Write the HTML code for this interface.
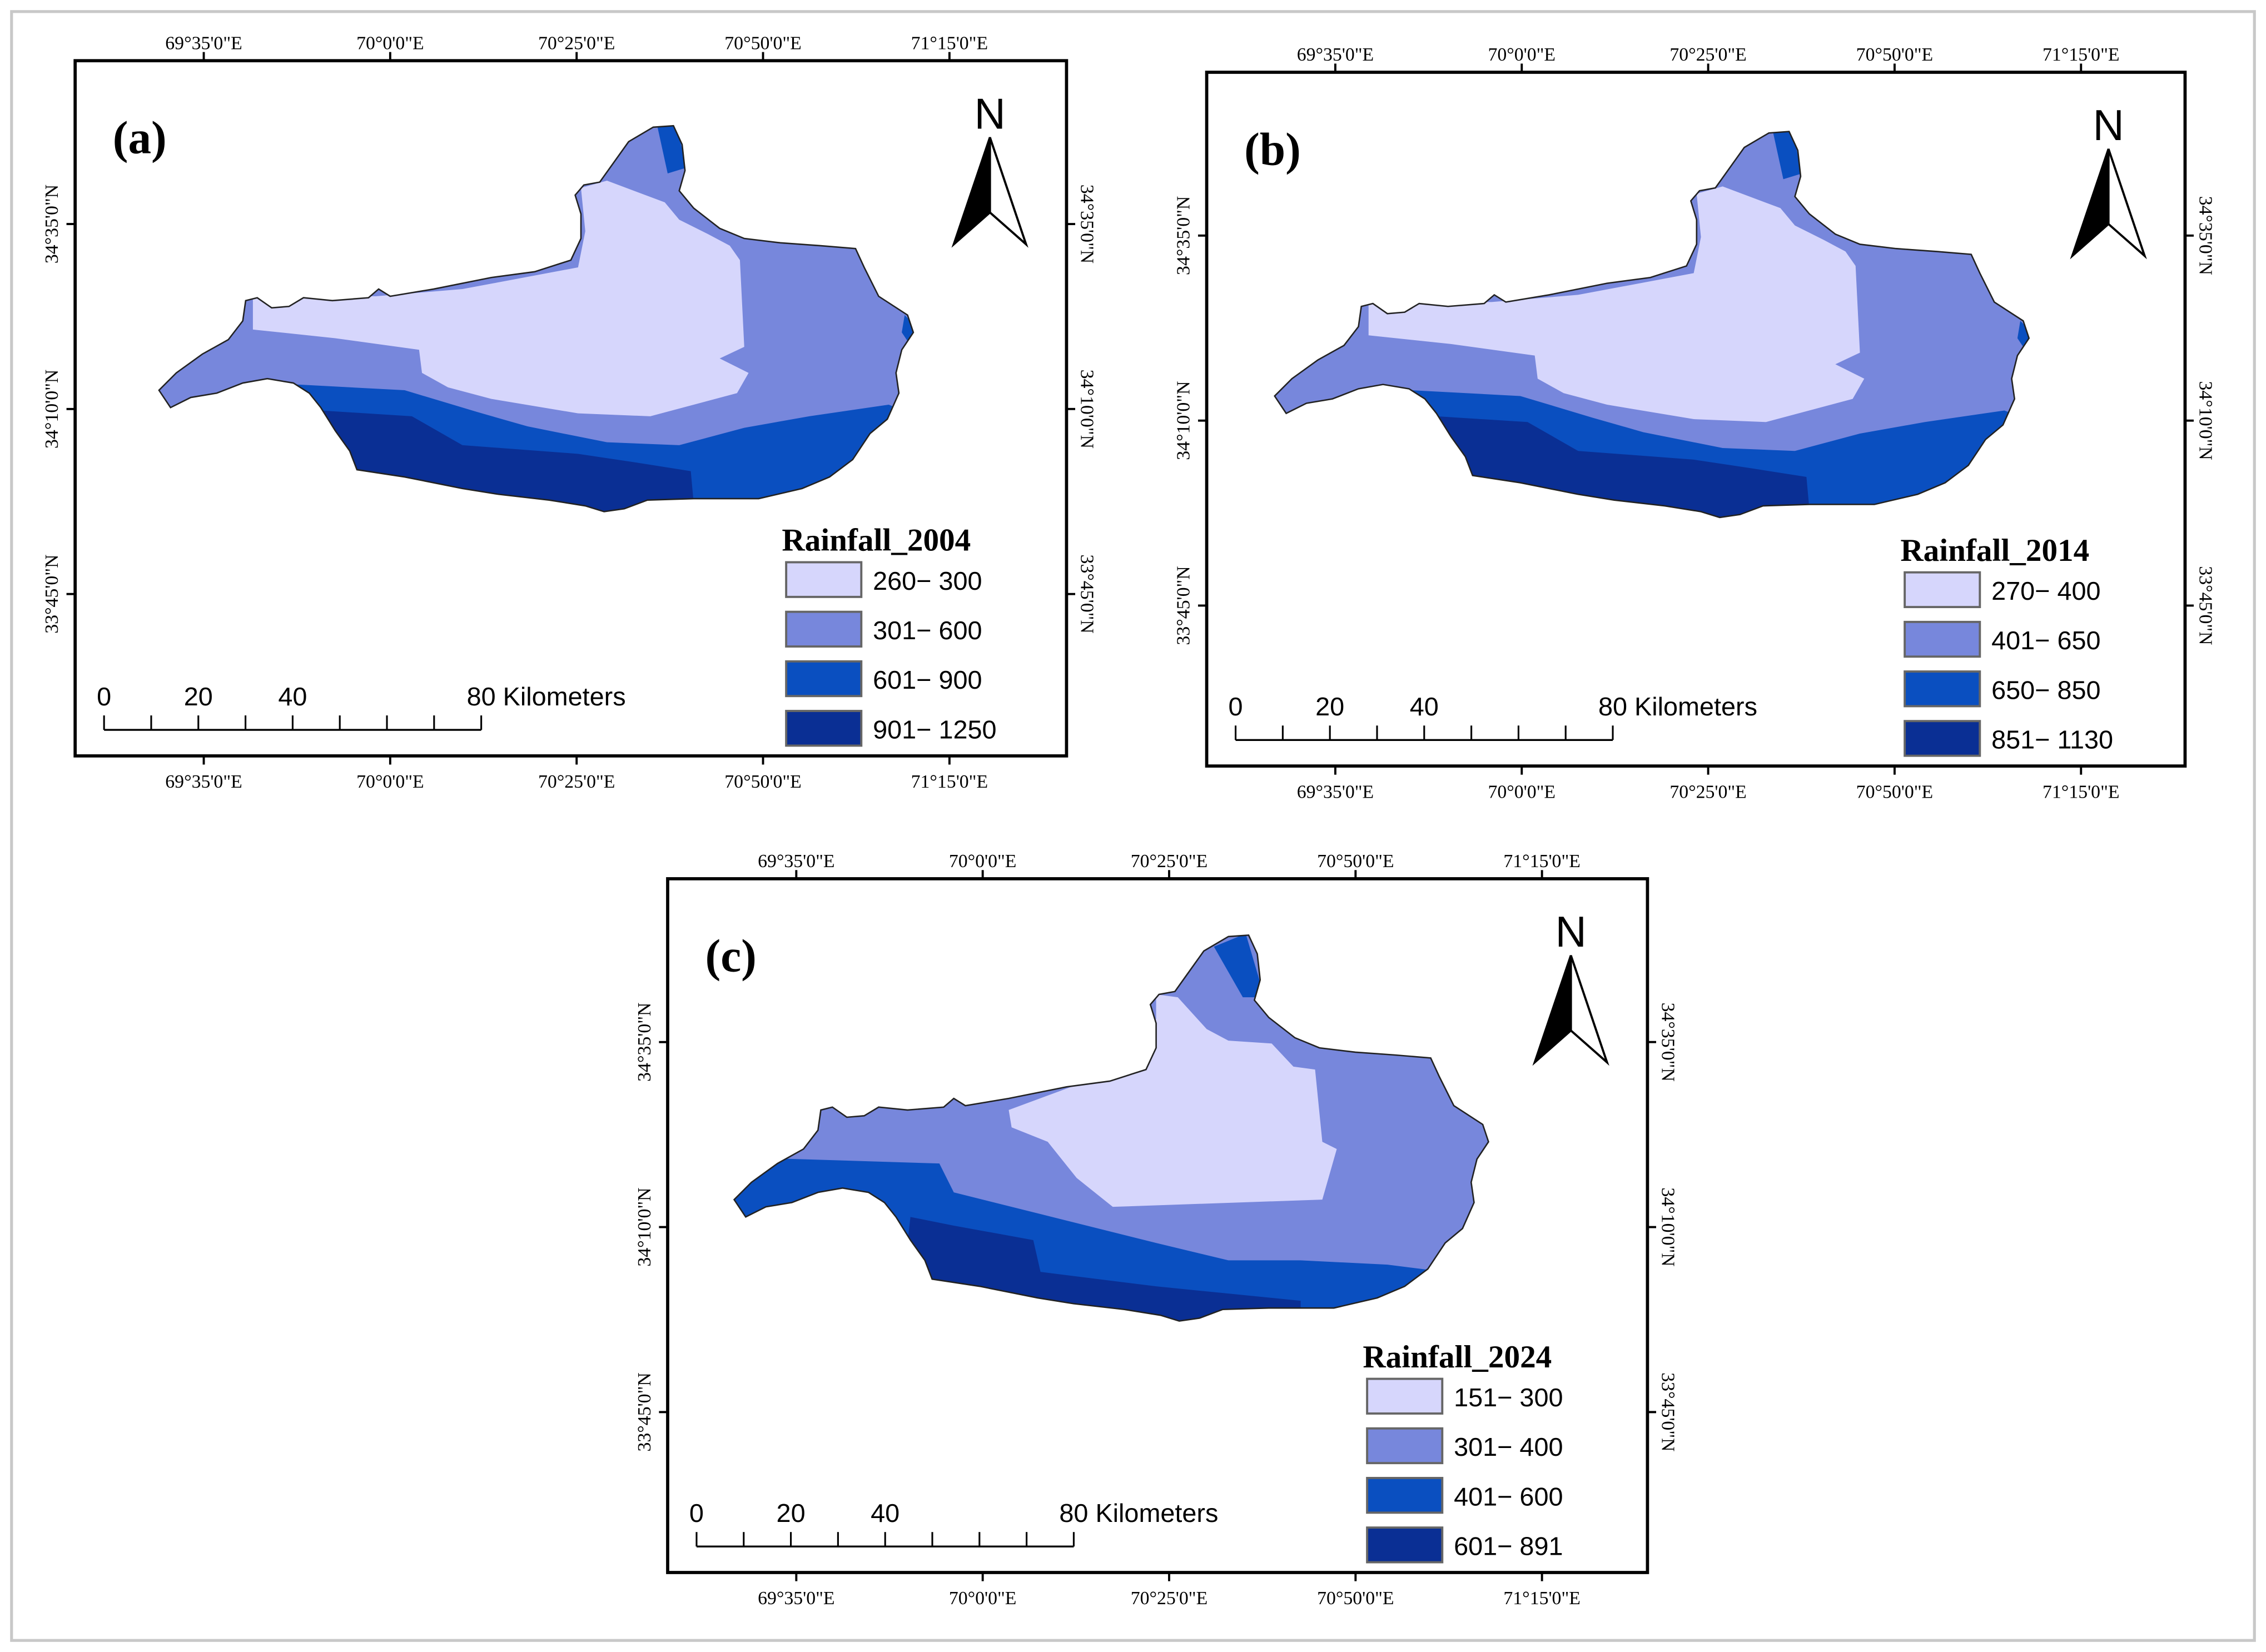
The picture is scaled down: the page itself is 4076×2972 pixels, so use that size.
<!DOCTYPE html>
<html><head><meta charset="utf-8"><title>Rainfall maps</title>
<style>html,body{margin:0;padding:0;background:#fff;}svg{display:block;}</style></head>
<body>
<svg id="fig" width="4076" height="2972" viewBox="0 0 1568 1143" preserveAspectRatio="none" xmlns="http://www.w3.org/2000/svg">
<rect x="8" y="8" width="1552" height="1127" fill="#fff" stroke="#c8c8c8" stroke-width="2"/>
<g id="root"></g>
</svg>
<script>
const lonLabels = ["69°35'0\"E","70°0'0\"E","70°25'0\"E","70°50'0\"E","71°15'0\"E"];
const latLabels = ["34°35'0\"N","34°10'0\"N","33°45'0\"N"];
const panelLetters = ["(a)","(b)","(c)"];
const legendTitles = ["Rainfall_2004","Rainfall_2014","Rainfall_2024"];
const legendA = ["260\u2212 300","301\u2212 600","601\u2212 900","901\u2212 1250"];
const legendB = ["270\u2212 400","401\u2212 650","650\u2212 850","851\u2212 1130"];
const legendC = ["151\u2212 300","301\u2212 400","401\u2212 600","601\u2212 891"];
const scaleLabels = ["0","20","40","80 Kilometers"];
const scaleValues = [0,20,40,80];
const colors = ["#d6d6fc","#7787dc","#0a4fc0","#0a2f94"];

const NS="http://www.w3.org/2000/svg";
const root=document.getElementById('root');
function mk(tag,attrs,parent,text){const e=document.createElementNS(NS,tag);for(const k in attrs)e.setAttribute(k,attrs[k]);if(text!==undefined)e.textContent=text;(parent||root).appendChild(e);return e;}

const outline="M110,270 L122,258 L140,245 L158,235 L168,222 L170,208 L178,206 L188,213 L200,212 L210,206 L230,208 L255,206 L262,200 L270,205 L300,200 L340,192 L370,188 L395,180 L402,165 L402,148 L398,135 L404,128 L415,126 L425,112 L435,98 L452,88 L466,87 L472,100 L474,118 L470,132 L480,144 L498,158 L515,165 L540,168 L568,170 L592,172 L598,185 L608,205 L628,218 L632,230 L624,242 L620,258 L622,272 L614,290 L602,300 L590,318 L574,330 L555,338 L525,345 L480,345 L448,346 L432,352 L418,354 L405,350 L380,346 L345,342 L320,338 L280,330 L247,325 L242,312 L232,298 L222,282 L214,272 L203,265 L185,262 L168,265 L150,272 L132,275 L118,282 Z";

const shapesAB={
 light:"M175,205 L260,205 L320,200 L400,185 L405,160 L402,130 L420,125 L460,140 L470,152 L490,162 L505,170 L512,180 L515,240 L498,248 L518,258 L510,272 L450,288 L400,286 L340,276 L310,268 L292,258 L290,242 L232,234 L175,228 Z",
 mid:"M205,266 L280,270 L330,285 L365,295 L420,306 L470,308 L515,296 L560,288 L615,280 L640,290 L640,370 L190,370 Z",
 dark:"M222,284 L285,288 L320,308 L400,314 L440,320 L478,326 L482,370 L200,370 Z",
 tip:"M455,88 L468,86 L475,116 L462,120 Z",
 east:"M626,218 L634,226 L628,236 L624,230 Z"
};
const shapesC={
 light:"M300,208 L362,185 L402,145 L402,128 L417,130 L437,152 L452,160 L482,162 L497,178 L512,180 L517,230 L527,235 L517,270 L372,275 L347,255 L327,230 L302,220 Z",
 mid:"M90,240 L252,245 L262,265 L322,280 L402,300 L452,312 L502,312 L562,315 L602,320 L640,330 L640,370 L90,370 Z",
 dark:"M232,282 L262,288 L317,298 L322,320 L402,330 L452,335 L502,340 L502,370 L222,370 Z",
 tip:"M442,95 L464,86 L477,130 L462,130 Z"
};

function panel(idx,fx,fy,fw,fh,mapDx,mapDy,legend,shapes){
  const g=mk('g',{});
  
  
  const frame=mk('rect',{x:fx,y:fy,width:fw,height:fh,fill:'#fff',stroke:'#000','stroke-width':2.2},g);
  
  
  const lf='font-size:13px;font-family:"Liberation Serif",serif;';
  lonLabels.forEach((t,i)=>{
    const x=fx+89+i*129;
    mk('line',{x1:x,y1:fy-6,x2:x,y2:fy,stroke:'#000','stroke-width':1.5},g);
    mk('line',{x1:x,y1:fy+fh,x2:x,y2:fy+fh+6,stroke:'#000','stroke-width':1.5},g);
    const a=mk('text',{x:x,y:fy-8,'text-anchor':'middle',style:lf},g,t);
    
    
    const b=mk('text',{x:x,y:fy+fh+22,'text-anchor':'middle',style:lf},g,t);
    
    
  });
  latLabels.forEach((t,i)=>{
    const y=fy+113+i*128;
    mk('line',{x1:fx-6,y1:y,x2:fx,y2:y,stroke:'#000','stroke-width':1.5},g);
    mk('line',{x1:fx+fw,y1:y,x2:fx+fw+6,y2:y,stroke:'#000','stroke-width':1.5},g);
    const a=mk('text',{x:0,y:0,'text-anchor':'middle',style:lf,transform:`translate(${fx-12},${y}) rotate(-90)`},g,t);
    
    
    const b=mk('text',{x:0,y:0,'text-anchor':'middle',style:lf,transform:`translate(${fx+fw+10},${y}) rotate(90)`},g,t);
    
    
  });
  const pl=mk('text',{x:fx+26,y:fy+64,'font-size':32,'font-weight':'bold','font-family':'Liberation Serif, serif'},g,panelLetters[idx]);
  
  
  const m=mk('g',{transform:`translate(${mapDx},${mapDy})`},g);
  
  
  const cid='clip'+idx;
  const defs=mk('defs',{},m);
  const cp=mk('clipPath',{id:cid},defs);
  mk('path',{d:outline},cp);
  const cg=mk('g',{'clip-path':`url(#${cid})`},m);
  mk('path',{d:outline,fill:colors[1]},cg);
  const order=[['light',0],['mid',2],['dark',3],['tip',2],['east',2]];
  order.forEach(([k,c])=>{ if(shapes[k]){const p=mk('path',{d:shapes[k],fill:colors[c]},cg);
    
    }});
  mk('path',{d:outline,fill:'none',stroke:'#222','stroke-width':1},m);
  const nx=fx+fw-53, ny=fy+27;
  const na=mk('g',{},g);
  
  
  mk('text',{x:nx,y:ny+20,'text-anchor':'middle','font-size':30,'font-family':'Liberation Sans, sans-serif'},na,'N');
  mk('path',{d:`M${nx},${ny+26} L${nx-25},${ny+100} L${nx},${ny+78} Z`,fill:'#000',stroke:'#000','stroke-width':1.5},na);
  mk('path',{d:`M${nx},${ny+26} L${nx+25},${ny+100} L${nx},${ny+78} Z`,fill:'#fff',stroke:'#000','stroke-width':1.5},na);
  const lx=fx+fw-194, ly=fy+fh-194;
  const lg=mk('g',{},g);
  
  
  mk('text',{x:lx-3,y:ly+52,'font-size':22,'font-weight':'bold','font-family':'Liberation Serif, serif'},lg,legendTitles[idx]);
  legend.forEach((t,i)=>{
    const y=ly+60+i*34.3;
    const r=mk('rect',{x:lx,y:y,width:52,height:24,fill:colors[i],stroke:'#666','stroke-width':1.5},lg);
    
    
    const tx=mk('text',{x:lx+60,y:y+19,'font-size':18,'font-family':'Liberation Sans, sans-serif'},lg,t);
    
    
  });
  const sx=fx+20, sy=fy+fh-18, sw=261;
  const sb=mk('g',{},g);
  
  
  mk('line',{x1:sx,y1:sy,x2:sx+sw,y2:sy,stroke:'#000','stroke-width':1.3},sb);
  for(let i=0;i<=8;i++){const x=sx+i*sw/8;mk('line',{x1:x,y1:sy-10,x2:x,y2:sy,stroke:'#000','stroke-width':1.2},sb);}
  scaleLabels.forEach((t,i)=>{
    const x=sx+scaleValues[i]/80*sw;
    mk('text',{x:x,y:sy-17,'text-anchor':i==3?'start':'middle','font-size':18,'font-family':'Liberation Sans, sans-serif',dx:i==3?-10:0},sb,t);
  });
}
panel(0,52,42,686,481,0,0,legendA,shapesAB);
panel(1,835,50,677,480,772,4,legendB,shapesAB);
panel(2,462,608,678,480,398,560,legendC,shapesC);
</script>
</body></html>
